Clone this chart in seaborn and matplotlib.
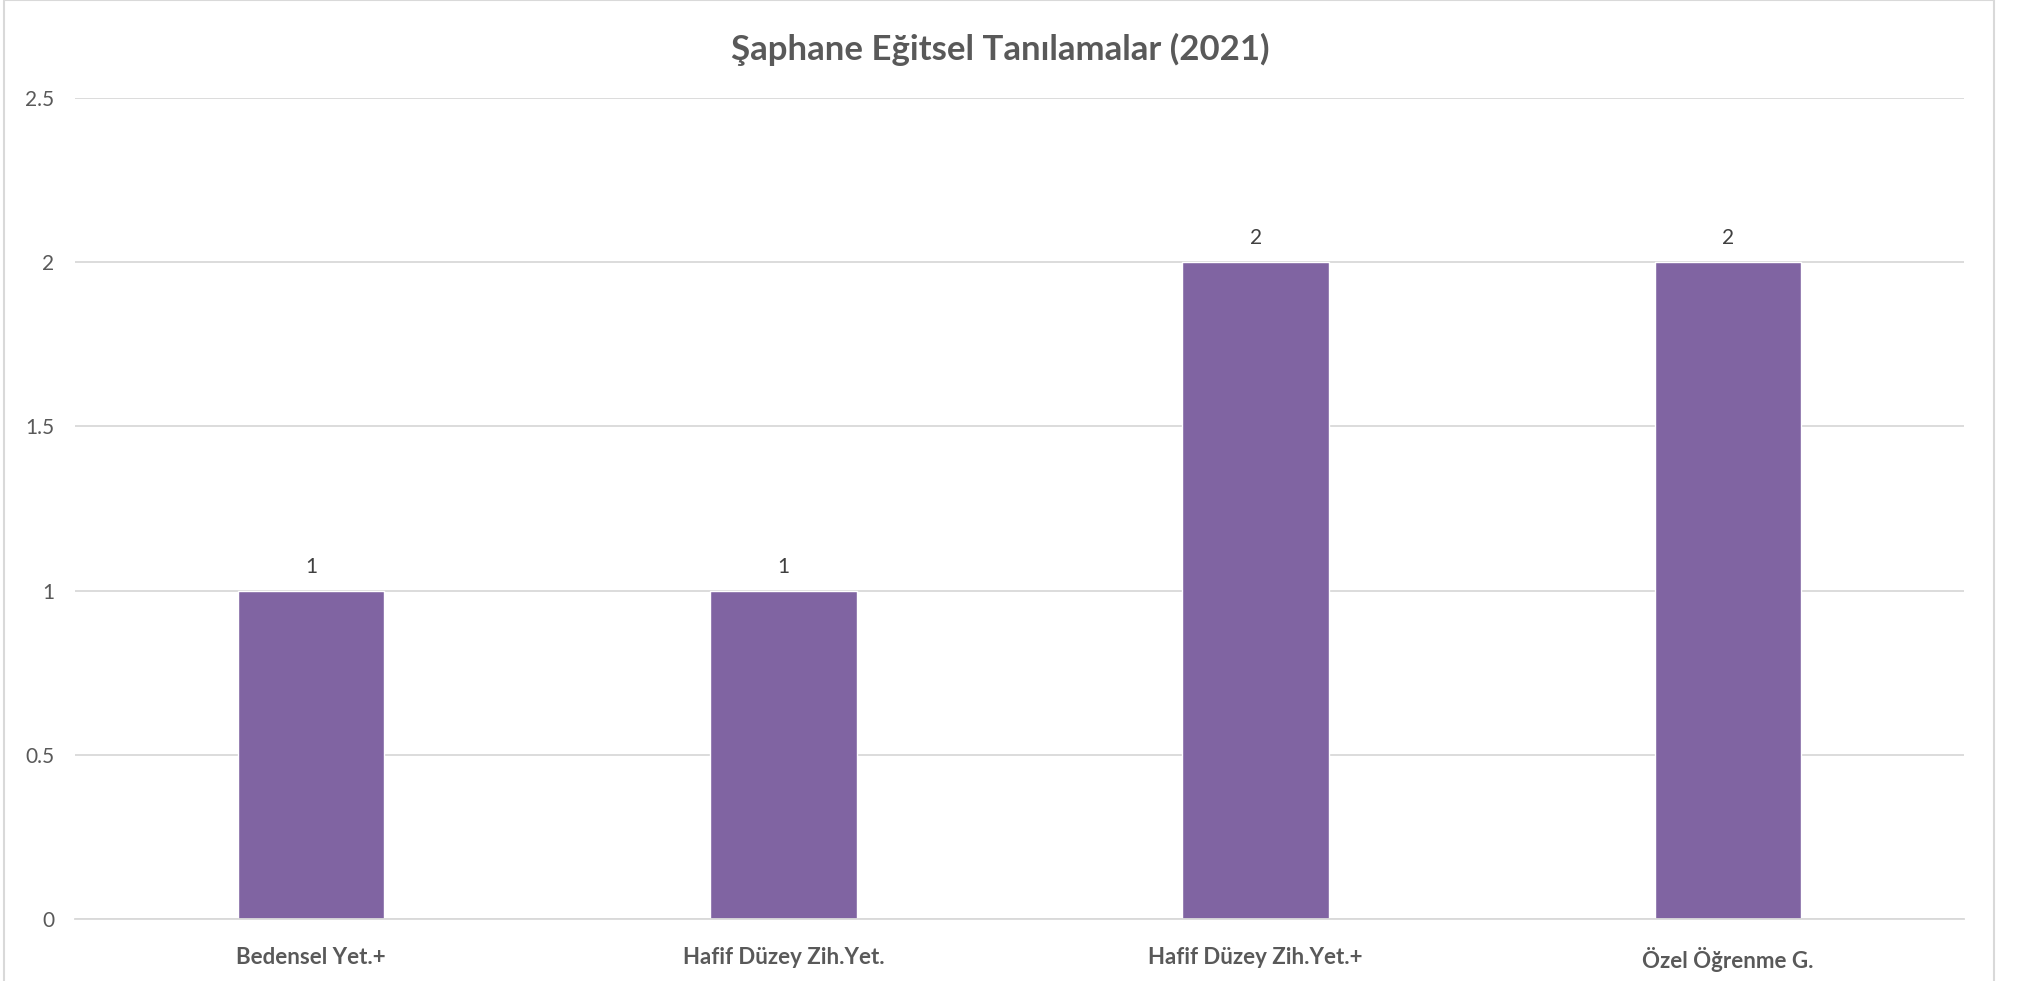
import matplotlib
matplotlib.use("Agg")
import matplotlib.pyplot as plt
import seaborn as sns
import pandas as pd
from matplotlib.patches import Rectangle

categories = ["Bedensel Yet.+", "Hafif Düzey Zih.Yet.", "Hafif Düzey Zih.Yet.+", "Özel Öğrenme G."]
values = [1, 1, 2, 2]
yticks = [0, 0.5, 1, 1.5, 2, 2.5]
ytick_labels = ["0", "0.5", "1", "1.5", "2", "2.5"]
title = "Şaphane Eğitsel Tanılamalar (2021)"

sns.set_theme(style="white")
plt.rcParams['font.family'] = ['Lato', 'DejaVu Sans']

df = pd.DataFrame({"cat": categories, "val": values})

fig = plt.figure(figsize=(20.22, 9.81), dpi=100)
ax = fig.add_axes([75/2022, 1 - 919/981, (1964-75)/2022, (919-98)/981])

sns.barplot(data=df, x="cat", y="val", color="#8064A2", width=0.31, ax=ax, saturation=1)

ax.set_ylim(0, 2.5)
ax.set_xlim(-0.5, len(categories) - 0.5)
ax.set_yticks(yticks)
ax.set_yticklabels(ytick_labels, fontsize=15, color="#595959")
ax.set_xticklabels(categories, fontsize=16, color="#595959", fontweight="bold")
ax.tick_params(axis="y", length=0, pad=15)
ax.tick_params(axis="x", length=0, pad=20)
ax.set_xlabel("")
ax.set_ylabel("")
ax.grid(axis="y", color="#D9D9D9", linewidth=1.3)
ax.set_axisbelow(True)
for s in ["top", "right", "left"]:
    ax.spines[s].set_visible(False)
ax.spines["bottom"].set_color("#D9D9D9")
ax.spines["bottom"].set_linewidth(1.3)

for c in ax.containers:
    ax.bar_label(c, labels=[f"{v:g}" for v in values], padding=10, fontsize=15,
                 color="#404040")

fig.text(776/1568, 1 - 49/981, title, ha="center", va="center", fontsize=25,
         fontweight="bold", color="#595959")

fig.patches.append(Rectangle((4/2022, -0.01), (1994-4)/2022, 1.0095, transform=fig.transFigure,
                             fill=False, edgecolor="#D9D9D9", linewidth=1.5))

fig.savefig("out.png", dpi=100, facecolor="white")
